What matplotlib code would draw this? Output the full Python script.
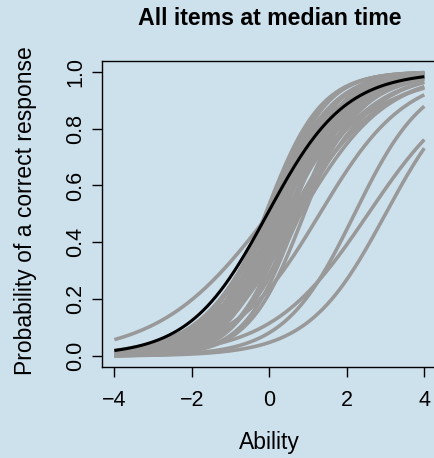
import numpy as np
import matplotlib
matplotlib.use('Agg')
import matplotlib.pyplot as plt

plt.rcParams['font.family'] = ['Liberation Sans', 'DejaVu Sans']

# item parameters (discrimination a, difficulty b)
item_a = [1.50, 1.45, 1.40, 1.35, 1.30, 1.20, 1.10, 1.05,
          1.45, 1.40, 1.30, 1.20, 1.15, 1.05, 1.00,
          1.50, 1.40, 1.30, 1.20, 1.10, 1.00, 0.95,
          1.45, 1.40, 1.30, 1.20, 1.10, 1.00, 0.90, 0.85,
          0.70, 0.90, 1.10, 0.80, 1.00]
item_b = [0.10, 0.00, -0.10, 0.15, 0.05, -0.05, 0.00, 0.05,
          0.30, 0.25, 0.35, 0.20, 0.30, 0.25, 0.15,
          0.50, 0.55, 0.45, 0.50, 0.45, 0.40, 0.55,
          0.75, 0.90, 0.70, 0.80, 0.65, 0.75, 0.80, 0.60,
          0.00, 1.30, 2.20, 2.55, 3.00]
# average item
mean_a = 1.0
mean_b = -0.05

xticks = [-4, -2, 0, 2, 4]
yticks = [0.0, 0.2, 0.4, 0.6, 0.8, 1.0]

bg = '#cde1ed'
theta = np.linspace(-4, 4, 300)

def icc(a, b):
    return 1 / (1 + np.exp(-a * (theta - b)))

fig = plt.figure(figsize=(4.34, 4.58), dpi=100, facecolor=bg)
ax = fig.add_axes([0.2350, 0.1987, 0.7712, 0.6681], facecolor=bg)

for a, b in zip(item_a, item_b):
    ax.plot(theta, icc(a, b), color='#999999', lw=2.6, solid_capstyle='butt')
ax.plot(theta, icc(mean_a, mean_b), color='black', lw=2.2, solid_capstyle='butt')

ax.set_xlim(-4.32, 4.32)
ax.set_ylim(-0.039, 1.038)
ax.set_xticks(xticks)
ax.set_xticklabels(['\u22124', '\u22122', '0', '2', '4'])
ax.set_yticks(yticks)
ax.set_yticklabels(['%.1f' % v for v in yticks])
for s in ax.spines.values():
    s.set_linewidth(1.0)
ax.tick_params(length=7.5, width=1.0, labelsize=15.5)
ax.tick_params(axis='x', pad=9)
ax.tick_params(axis='y', pad=4)
for lab in ax.get_yticklabels():
    lab.set_rotation(90)
    lab.set_va('center')
    lab.set_ha('right')

ax.set_xlabel('Ability', fontsize=16.5)
ax.xaxis.set_label_coords(0.5, -0.248)
ax.xaxis.label.set_va('center')
ax.set_ylabel('Probability of a correct response', fontsize=16.5)
ax.yaxis.set_label_coords(-0.230, 0.51)
ax.yaxis.label.set_va('center')
ax.set_title('All items at median time', fontsize=16.7, fontweight='bold',
             y=1.1405, va='center', pad=0)

fig.savefig('out.png', dpi=100, facecolor=bg)
